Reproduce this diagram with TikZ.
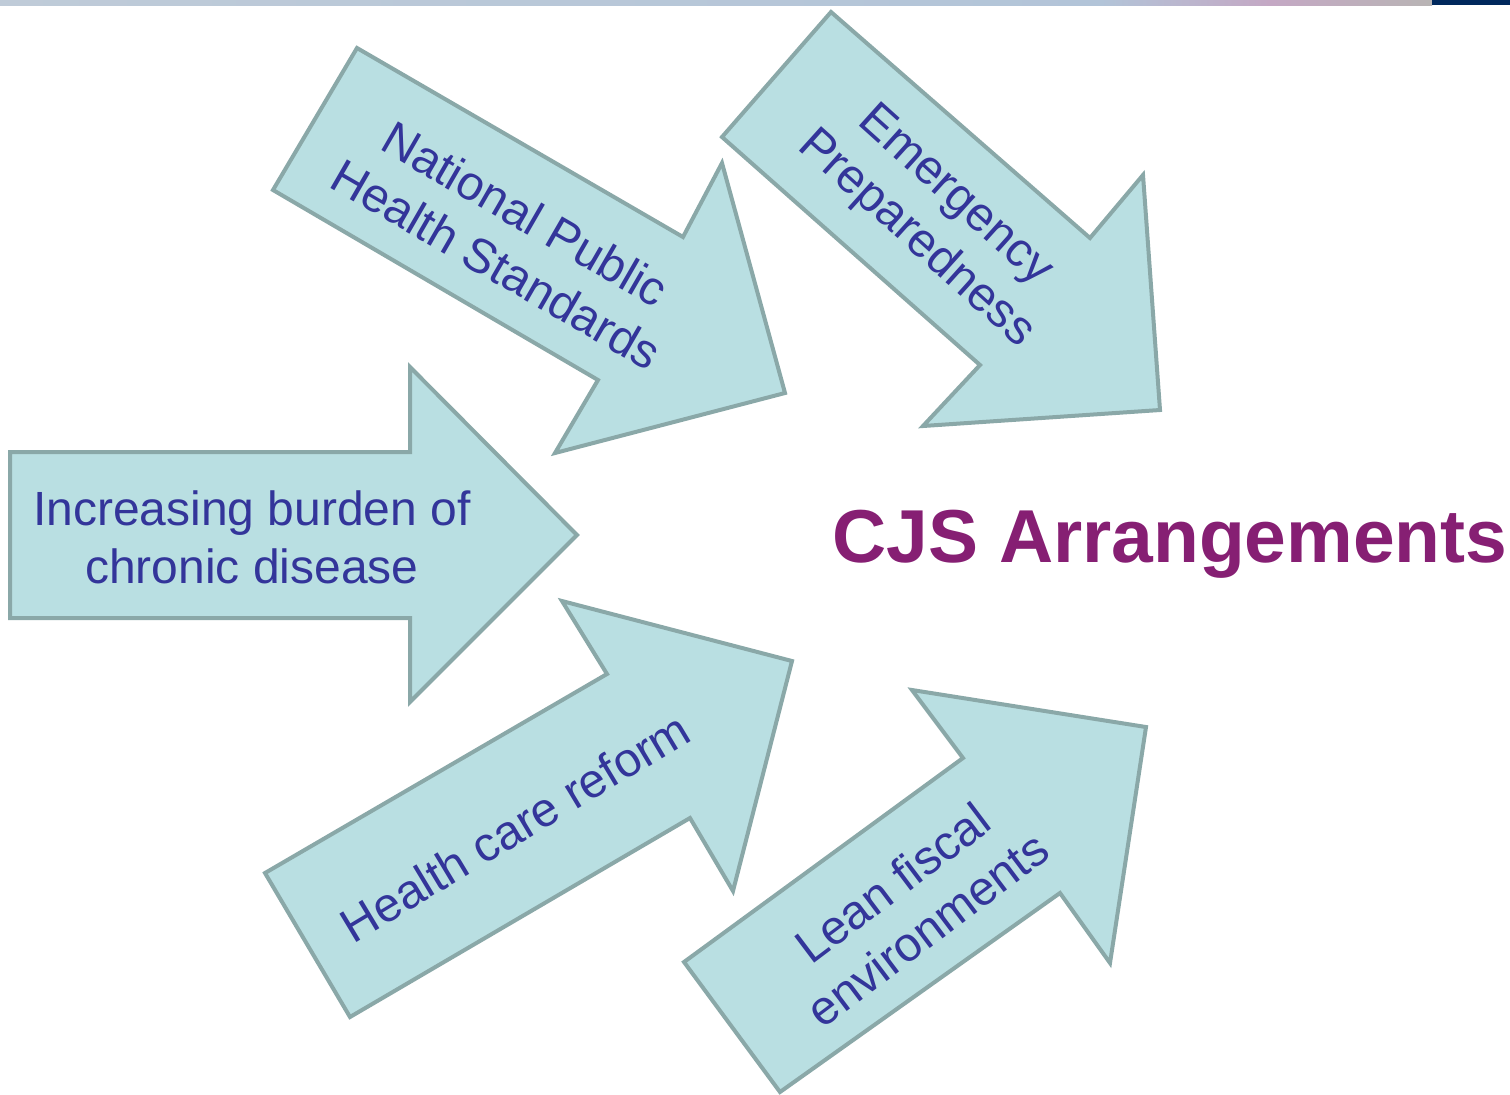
\documentclass[tikz,border=0pt]{standalone}
\usepackage{fontspec}
\setmainfont{Liberation Sans}
\definecolor{arrowfill}{HTML}{B9DFE2}
\definecolor{arrowline}{HTML}{8AA8A8}
\definecolor{txtblue}{HTML}{33359A}
\definecolor{cjspurple}{HTML}{861F73}
\definecolor{barA}{HTML}{BFCBD8}
\definecolor{barB}{HTML}{B2C4D8}
\definecolor{barC}{HTML}{C4A8C4}
\definecolor{barD}{HTML}{B8B4B4}
\definecolor{navy}{HTML}{00285C}
\tikzset{
  bigarrow/.style={fill=arrowfill, draw=arrowline, line width=2pt, line join=miter},
  lbl/.style={text=txtblue, font=\fontsize{24}{29}\selectfont, align=center, inner sep=0pt},
}
\begin{document}
\begin{tikzpicture}[x=0.5pt,y=-0.5pt]
\useasboundingbox (0,0) rectangle (1510,1094);
% top bar
\shade[left color=barA, right color=barB] (0,0) rectangle (1100,5);
\shade[left color=barB, right color=barC] (1100,0) rectangle (1270,5);
\shade[left color=barC, right color=barD] (1270,0) rectangle (1432,5);
\fill[navy] (1432,0) rectangle (1510,5);
% arrows
\draw[bigarrow] (10,452) -- (410,452) -- (410,367) -- (577,535) -- (410,702) -- (410,618) -- (10,618) -- cycle;
\draw[bigarrow] (357,48) -- (683,237) -- (722,163) -- (785,393) -- (555,453) -- (598,380) -- (273,190) -- cycle;
\draw[bigarrow] (831,12) -- (1090,238) -- (1143,175) -- (1160,410) -- (923,426) -- (980,365) -- (722,137) -- cycle;
\draw[bigarrow] (265,873) -- (607,674) -- (562,601) -- (792,661) -- (733,891) -- (690,818) -- (350,1017) -- cycle;
\draw[bigarrow] (684,962) -- (963,758) -- (912,690) -- (1146,727) -- (1110,963) -- (1060,893) -- (780,1092) -- cycle;
% labels
\node[lbl] (burden) at (252,537) {Increasing burden of\\chronic disease};
\node[lbl, rotate=-30] (nphs) at (511,239) {National Public\\Health Standards};
\node[lbl, rotate=-42] (emerg) at (935,218) {Emergency\\Preparedness};
\node[lbl, rotate=31] (hcr) at (515,827) {Health care reform};
\node[lbl, rotate=37] (lean) at (910,906) {Lean fiscal\\environments};
\node[text=cjspurple, font=\fontsize{37.5}{45}\selectfont\bfseries, anchor=base, inner sep=0pt] (cjs) at (1170,562) {CJS Arrangements};
\end{tikzpicture}
\end{document}
